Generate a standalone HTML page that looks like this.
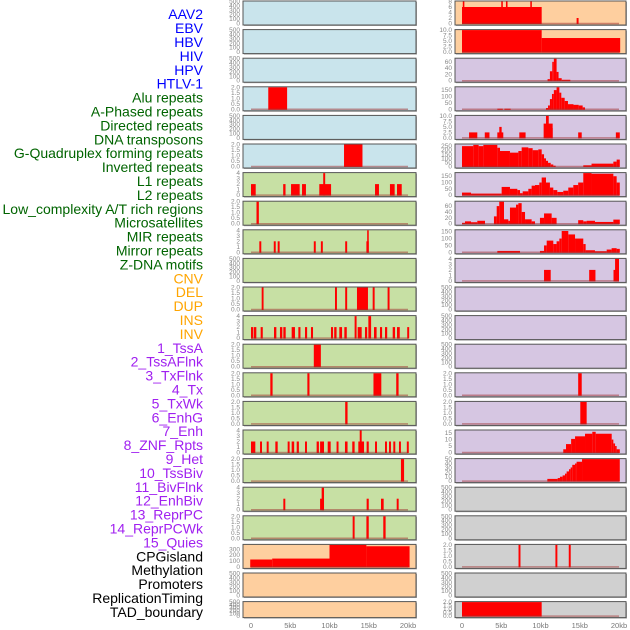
<!DOCTYPE html>
<html><head><meta charset="utf-8"><style>
html,body{margin:0;padding:0;background:#fff;}
svg{display:block;font-family:"Liberation Sans",sans-serif;}
</style></head><body>
<svg id="chart" width="630" height="630" viewBox="0 0 630 630" xmlns="http://www.w3.org/2000/svg"></svg>
<script>
const trackNames = ["AAV2","EBV","HBV","HIV","HPV","HTLV-1","Alu repeats","A-Phased repeats","Directed repeats","DNA transposons","G-Quadruplex forming repeats","Inverted repeats","L1 repeats","L2 repeats","Low_complexity A/T rich regions","Microsatellites","MIR repeats","Mirror repeats","Z-DNA motifs","CNV","DEL","DUP","INS","INV","1_TssA","2_TssAFlnk","3_TxFlnk","4_Tx","5_TxWk","6_EnhG","7_Enh","8_ZNF_Rpts","9_Het","10_TssBiv","11_BivFlnk","12_EnhBiv","13_ReprPC","14_ReprPCWk","15_Quies","CPGisland","Methylation","Promoters","ReplicationTiming","TAD_boundary"];
const labelColors = ["#0000ff","#0000ff","#0000ff","#0000ff","#0000ff","#0000ff","#006400","#006400","#006400","#006400","#006400","#006400","#006400","#006400","#006400","#006400","#006400","#006400","#006400","#ffa500","#ffa500","#ffa500","#ffa500","#ffa500","#a020f0","#a020f0","#a020f0","#a020f0","#a020f0","#a020f0","#a020f0","#a020f0","#a020f0","#a020f0","#a020f0","#a020f0","#a020f0","#a020f0","#a020f0","#000","#000","#000","#000","#000"];
const xTicks = [0,5,10,15,20];
const xTickLabels = ["0","5kb","10kb","15kb","20kb"];
const t500=[0,100,200,300,400,500], t2=[0,0.5,1,1.5,2], t4=[0,1,2,3,4];
const leftMax = [500,500,500,2,500,2,4,2,4,500,2,4,2,2,2,4,2,4,2,375,500,500];
const leftTicks = [t500,t500,t500,t2,t500,t2,t4,t2,t4,t500,t2,t4,t2,t2,t2,t4,t2,t4,t2,[0,100,200,300],t500,t500];
const leftBg = ["b","b","b","b","b","b","g","g","g","g","g","g","g","g","g","g","g","g","g","o","o","o"];
const leftSegs = [
 [],[],[],[[2.2,4.6,2]],[],[[11.85,14.2,2]],
 [[0,0.6,2],[4.1,4.4,2],[5.1,6.2,2],[6.5,7.0,2],[8.7,10.2,2],[9.2,9.45,4],[15.8,16.3,2],[17.7,18.3,2],[18.6,19.2,2]],
 [[0.7,1.0,2]],
 [[1.06,1.31,2],[2.9,3.15,2],[3.4,3.65,2],[8.0,8.25,2],[8.9,9.15,2],[12.0,12.25,2],[14.7,15.0,2],[14.8,15.0,4]],
 [],
 [[1.36,1.6,2],[10.7,10.95,2],[12.0,12.25,2],[13.5,14.9,2],[15.5,15.75,2],[17.4,17.65,2]],
 [[0,0.3,2],[0.38,0.68,2],[1.23,1.5,2],[2.93,3.23,2],[3.69,3.99,2],[4.12,4.42,2],[5.18,5.6,2],[6.03,6.3,2],[6.88,7.15,2],[7.64,7.9,2],[10.19,10.45,2],[10.6,10.9,2],[11.25,11.6,2],[11.89,12.2,2],[13.2,13.45,4],[13.59,14.1,2],[14.52,14.8,2],[14.95,15.3,4],[15.67,16.0,2],[16.43,16.7,2],[17.07,17.35,2],[18.05,18.35,2],[18.6,18.95,2],[19.9,20.15,2]],
 [[8.0,8.9,2]],
 [[2.46,2.75,2],[7.18,7.45,2],[15.6,16.6,2],[18.5,18.8,2]],
 [[12.0,12.3,2]],
 [[0,0.55,2],[1.15,1.4,2],[2.0,2.25,2],[3.1,3.4,2],[4.67,4.92,2],[5.18,5.5,2],[5.82,6.1,2],[6.88,7.13,2],[8.36,8.65,2],[8.8,9.3,2],[9.77,10.15,2],[10.9,11.15,2],[11.97,12.3,2],[12.9,13.2,2],[13.67,14.4,2],[13.85,14.1,4],[14.73,15.0,2],[15.8,16.05,2],[17.07,17.32,2],[17.58,17.83,2],[18.13,18.38,2],[18.85,19.1,2],[19.85,20.1,2]],
 [[19.1,19.5,2]],
 [[4.12,4.37,2],[8.8,9.3,2],[9.0,9.3,4],[14.73,15.0,2],[16.56,16.9,2],[18.56,18.81,2]],
 [[12.95,13.2,2],[14.7,15.0,2],[16.85,17.15,2]],
 [[-0.1,2.7,126],[2.7,10.0,142],[10.0,14.7,374],[14.7,20.2,352]],
 [],[]
];
const rightMax = [8,10,70,172,10,270,175,75,160,4,500,500,500,2,2,17,50,500,500,2,500,2];
const rightTicks = [[0,2,4,6,8],[0,2.5,5,7.5,10],[0,20,40,60],[0,50,100,150],[0,2.5,5,7.5,10],[0,50,100,150,200,250],[0,50,100,150],[0,20,40,60],[0,50,100,150],t4,t500,t500,t500,t2,t2,[0,5,10,15],[0,10,20,30,40,50],t500,t500,t2,t500,t2];
const rightBg = ["o","o","p","p","p","p","p","p","p","p","p","p","p","p","p","p","p","y","y","y","y","y"];
const rightSegs = [
 [[0,10.15,6],[0.1,0.3,8],[5.0,5.2,8],[5.6,5.8,8],[8.7,8.9,8],[14.6,14.85,2]],
 [[0,10.15,10],[10.15,20.15,6.4]],
 [[10.9,11.2,5],[11.2,11.5,30],[11.5,11.7,60],[11.7,12.05,70],[12.05,12.3,28],[12.3,12.7,8],[12.7,13.8,3]],
 [[4.5,5.2,5],[5.4,6.2,5],[10.7,10.96,10],[10.96,11.2,30],[11.2,11.46,80],[11.46,11.7,120],[11.7,12.05,150],[12.05,12.4,172],[12.4,12.65,130],[12.65,13.08,90],[13.08,13.5,65],[13.5,14.2,40],[14.2,14.86,35],[14.86,15.37,30],[15.37,15.67,15]],
 [[0.9,1.95,2.5],[2.9,3.5,2.5],[4.5,5.26,2.5],[4.75,5.05,5],[7.3,8.1,2.5],[10.4,11.55,6.5],[10.7,11.05,10],[11.3,11.55,4.5],[14.8,15.25,2.5],[19.6,20.1,2.5]],
 [[0,1.44,250],[1.44,2.12,265],[2.12,2.72,250],[2.72,4.5,265],[4.5,4.84,230],[4.84,6.11,190],[6.11,7.18,170],[7.18,7.6,190],[7.6,8.45,235],[8.45,9.0,225],[9.0,9.72,200],[9.72,10.15,210],[10.15,10.45,150],[10.45,10.7,100],[10.7,10.96,70],[10.96,11.3,45],[11.3,11.63,25],[11.63,11.93,10],[15.45,16.5,15],[16.5,19.28,35],[19.28,19.7,60],[19.7,20.1,85]],
 [[0,1.15,20],[1.15,5.05,12],[5.05,6.11,65],[6.11,7.05,50],[7.05,7.39,40],[7.39,7.73,15],[7.73,8.45,30],[8.45,8.87,50],[8.87,9.3,75],[9.3,9.85,80],[9.85,10.15,100],[10.15,10.7,140],[10.7,11.2,100],[11.2,11.63,60],[11.63,12.14,40],[12.14,12.9,25],[12.9,13.54,35],[13.54,14.18,60],[14.18,14.8,80],[14.8,15.45,100],[15.45,16.5,175],[16.5,19.28,170],[19.28,19.7,150],[19.7,20.1,100]],
 [[0,0.38,3],[0.38,1.15,8],[1.15,1.95,5],[1.95,2.93,10],[4.07,4.42,25],[4.42,4.75,60],[4.75,5.35,75],[5.35,5.9,15],[5.9,6.11,10],[6.11,6.88,55],[6.88,7.18,65],[7.18,7.6,70],[7.6,8.03,40],[8.03,8.87,15],[8.87,9.3,8],[9.93,10.45,20],[10.45,11.42,35],[11.42,12.05,20],[14.8,15.45,12],[15.45,15.88,8],[15.88,16.94,10],[16.94,17.58,6],[17.58,19.28,6],[19.28,20.1,14]],
 [[4.5,7.39,10],[9.93,10.45,10],[10.45,10.79,50],[10.79,11.63,85],[11.63,12.05,60],[12.05,12.4,80],[12.4,12.7,100],[12.7,13.54,155],[13.54,14.4,130],[14.4,15.45,100],[15.45,15.75,60],[15.75,16.94,15],[16.94,18.43,8],[18.43,19.06,20],[19.06,19.7,30],[19.7,20.1,25]],
 [[10.45,11.3,2],[16.2,17.0,2],[19.3,20.0,2],[19.5,20.0,4]],
 [],[],[],
 [[14.8,15.25,2]],
 [[15.07,15.88,2]],
 [[12.9,13.25,2.5],[13.25,13.9,6.5],[13.9,14.4,10.5],[14.4,15.67,12.5],[15.67,16.6,14.5],[16.6,17.03,16],[17.03,19.07,14.5],[19.07,19.28,10],[19.28,19.5,7],[19.5,19.7,5],[19.7,20.1,2.5]],
 [[10.87,12.19,5],[12.19,12.48,7],[12.48,12.82,10],[12.82,13.12,13],[13.12,13.33,17],[13.33,13.63,22],[13.63,13.84,27],[13.84,14.05,31],[14.05,14.4,37],[14.4,14.6,40],[14.6,15.29,44],[15.29,20.1,50]],
 [],[],
 [[7.2,7.45,2],[11.9,12.15,2],[13.6,13.85,2]],
 [],
 [[0,10.15,2]]
];

const NS="http://www.w3.org/2000/svg";
const svg=document.getElementById('chart');
const bgColors={b:"#c9e4ec",g:"#c7e0a4",o:"#fecf9f",p:"#d6c6e2",y:"#d0d0d0"};
function mk(tag,attrs){const e=document.createElementNS(NS,tag);for(const k in attrs)e.setAttribute(k,attrs[k]);svg.appendChild(e);return e;}
function xScale(col,kb){return (col===0?251:462)+kb*7.85;}
function rowTop(r){return 1+r*28.6;}
function rowH(r){return r===21?16:24;}
function yScale(r,max,v){const t=rowTop(r),h=rowH(r);const y0=t+h-1.5,y1=t+0.5;return y0-(v/max)*(y0-y1);}

trackNames.forEach((n,i)=>{
  const t=mk('text',{x:203,y:15.5+i*13.9,'text-anchor':'end','dominant-baseline':'middle','font-size':'14',fill:labelColors[i]});
  t.textContent=n;
  
  
});

function drawCol(col,maxArr,tickArr,bgArr,segArr){
  const px=col===0?243:455, pw=col===0?173:171, tx=col===0?240:452;
  for(let r=0;r<22;r++){
    const top=rowTop(r),h=rowH(r);
    const sh=mk('rect',{x:px+1,y:top+1,width:pw,height:h,fill:'#aaa'});
    
    
    const bg=mk('rect',{x:px,y:top,width:pw,height:h,fill:bgColors[bgArr[r]],stroke:'#555','stroke-width':1});
    
    
    const segs=segArr[r];
    segs.forEach((s)=>{
      const x0=xScale(col,Math.max(s[0],-0.1)),x1=xScale(col,s[1]);
      const yv=yScale(r,maxArr[r],Math.min(s[2],maxArr[r]));
      const yb=yScale(r,maxArr[r],0);
      const b=mk('rect',{x:x0,y:yv,width:Math.max(1.5,x1-x0),height:yb-yv+0.5,fill:'#ff0000'});
      
      
    });
    if(segs.length){
      const yb=yScale(r,maxArr[r],0);
      const l=mk('line',{x1:xScale(col,0),x2:xScale(col,20),y1:yb,y2:yb,stroke:'#a03030','stroke-opacity':0.5,'stroke-width':1.5});
      
      
    }
    tickArr[r].forEach(v=>{
      const t=mk('text',{x:tx,y:yScale(r,maxArr[r],v)+2,'text-anchor':'end','font-size':'6.5',fill:'#888'});
      t.textContent=(tickArr[r]===t2||(tickArr[r][1]===2.5))?v.toFixed(1):String(v);
      
      
    });
  }
  xTicks.forEach((v,i)=>{
    const t=mk('text',{x:xScale(col,v),y:628,'text-anchor':'middle','font-size':'7.5',fill:'#777'});
    t.textContent=xTickLabels[i];
    
    
  });
}
drawCol(0,leftMax,leftTicks,leftBg,leftSegs);
drawCol(1,rightMax,rightTicks,rightBg,rightSegs);
</script>
</body></html>
